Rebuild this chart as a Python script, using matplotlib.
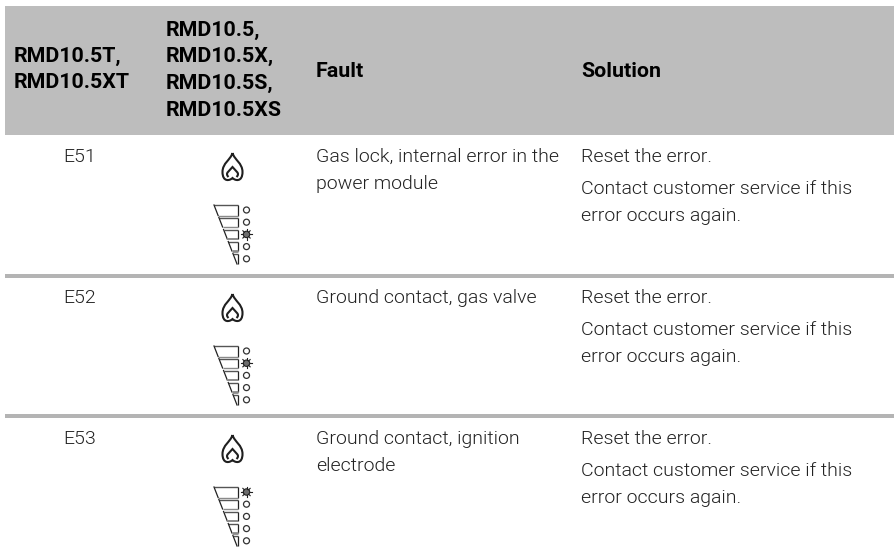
import matplotlib
matplotlib.use("Agg")
import matplotlib.pyplot as plt
from matplotlib.patches import Rectangle, Circle, PathPatch
from matplotlib.path import Path

plt.rcParams["font.family"] = ["Roboto", "DejaVu Sans"]

W, H = 894, 555
HEADER_GREY = "#bdbdbd"
LINE_GREY = "#b4b4b4"
TEXT = "#222222"
BODY_SIZE = 14
HEADER_SIZE = 15.4

headers = [["RMD10.5T,", "RMD10.5XT"],
           ["RMD10.5,", "RMD10.5X,", "RMD10.5S,", "RMD10.5XS"],
           ["Fault"],
           ["Solution"]]
header_x = [14, 165.5, 316, 581]
header_baselines = [[62, 88.5], [35.5, 62, 88.5, 115.5], [77], [77]]

codes = ["E51", "E52", "E53"]
faults = [["Gas lock, internal error in the", "power module"],
          ["Ground contact, gas valve"],
          ["Ground contact, ignition", "electrode"]]
solution_first = "Reset the error."
solution_rest = ["Contact customer service if this", "error occurs again."]
active_lamp = [2, 1, 0]  # lamp counted from the top

row_baselines = [162, 303, 444]
separators = [274, 414]


def draw_flame(ax, cx, top):
    # outer drop with the notch at the bottom, then the inner chevron
    b = top + 27
    outer = Path([(cx, top), (cx - 2, top + 7), (cx - 10, top + 10), (cx - 10, top + 19),
                  (cx - 10, top + 29), (cx - 3, b + 1), (cx, b - 2),
                  (cx + 3, b + 1), (cx + 10, top + 29), (cx + 10, top + 19),
                  (cx + 10, top + 10), (cx + 2, top + 7), (cx, top)],
                 [Path.MOVETO] + [Path.CURVE4] * 12)
    inner = Path([(cx - 4, b - 3), (cx - 8, top + 20), (cx - 3, top + 18), (cx, top + 14),
                  (cx + 3, top + 18), (cx + 8, top + 20), (cx + 4, b - 3)],
                 [Path.MOVETO] + [Path.CURVE4] * 6)
    for p in (outer, inner):
        ax.add_patch(PathPatch(p, fc="none", ec="#1f1f1f", lw=1.5))


def draw_wedge(ax, top, active):
    # one slanted side cut into five segments, a lamp next to each
    right = 238
    slope = 0.39
    left = lambda y: 214 + y * slope
    segments = [(0, 10.5), (12.5, 22), (24.5, 34), (36.5, 46), (48.5, 59)]
    bottom_lw = [1.0, 1.0, 1.4, 2.0, 0]
    for i, (y0, y1) in enumerate(segments):
        ax.plot([left(y0), right], [top + y0, top + y0], color="#555555", lw=1.0, solid_capstyle="butt")
        ax.plot([right, right], [top + y0, top + y1], color="#222222", lw=0.9, solid_capstyle="butt")
        ax.plot([left(y0), left(y1)], [top + y0, top + y1], color="#222222", lw=0.9)
        if bottom_lw[i]:
            ax.plot([left(y1), right], [top + y1, top + y1], color="#8a8a8a", lw=bottom_lw[i],
                    solid_capstyle="butt")
        cy = top + 5 + i * 12.2
        if i == active:
            ax.add_patch(Circle((246.5, cy), 3.2, fc="#6e6e6e", ec="#222222", lw=0.8))
            for dx, dy in [(1, 0), (-1, 0), (0, 1), (0, -1), (.7, .7), (-.7, .7), (.7, -.7), (-.7, -.7)]:
                ax.plot([246.5 + 3.2 * dx, 246.5 + 5.2 * dx], [cy + 3.2 * dy, cy + 5.2 * dy],
                        color="#222222", lw=0.8)
        else:
            ax.add_patch(Circle((246.5, cy), 3, fc="white", ec="#333333", lw=0.9))


fig = plt.figure(figsize=(W / 100, H / 100), dpi=100)
ax = fig.add_axes([0, 0, 1, 1])
ax.set_xlim(0, W)
ax.set_ylim(H, 0)
ax.axis("off")

ax.add_patch(Rectangle((5, 6), W - 5, 129, fc=HEADER_GREY, ec="none"))
for y in separators:
    ax.add_patch(Rectangle((5, y), W - 5, 4, fc=LINE_GREY, ec="none"))

for x, lines, ys in zip(header_x, headers, header_baselines):
    for line, y in zip(lines, ys):
        ax.text(x, y, line, fontsize=HEADER_SIZE, fontweight=700, color="black", va="baseline", ha="left")

for i, base in enumerate(row_baselines):
    ax.text(80, base, codes[i], fontsize=BODY_SIZE, color=TEXT, ha="center", va="baseline", fontweight=300)
    for j, line in enumerate(faults[i]):
        ax.text(316, base + j * 27, line, fontsize=BODY_SIZE, color=TEXT, va="baseline", fontweight=300)
    ax.text(581, base, solution_first, fontsize=BODY_SIZE, color=TEXT, va="baseline", fontweight=300)
    for j, line in enumerate(solution_rest):
        ax.text(581, base + 32 + j * 27, line, fontsize=BODY_SIZE, color=TEXT, va="baseline", fontweight=300)
    draw_flame(ax, 232.5, base - 9)
    draw_wedge(ax, base + 43, active_lamp[i])

fig.savefig("out.png", dpi=100)
